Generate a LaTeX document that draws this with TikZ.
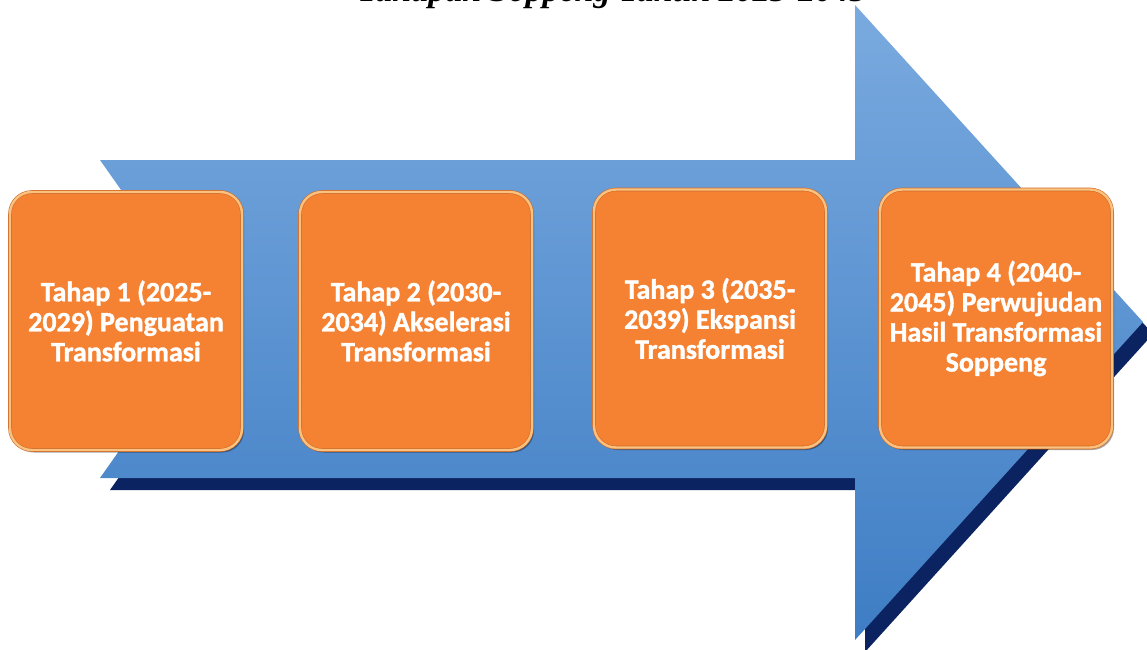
\documentclass[tikz,border=0pt]{standalone}
\usepackage{fontspec}
\setmainfont{Liberation Serif}
\newfontfamily\boxfont{Carlito}[BoldFeatures={FakeBold=1.3}]
\usetikzlibrary{shadows}
\definecolor{arrowtop}{HTML}{7AAADF}
\definecolor{arrowmid}{HTML}{5A98D6}
\definecolor{arrowbot}{HTML}{3E7DC4}
\definecolor{arrowshadow}{HTML}{0B2360}
\definecolor{boxfill}{HTML}{F58233}
\definecolor{boxedge}{HTML}{D06A28}
\definecolor{boxring}{HTML}{FBC27F}
\tikzset{
  stagebox/.style={
    rectangle, rounded corners=22pt, minimum width=232pt, minimum height=258pt,
    fill=boxfill, draw=boxedge, line width=0.6pt, double=boxring, double distance=2.4pt,
    drop shadow={shadow xshift=2pt, shadow yshift=-2.5pt, opacity=0.35, fill=black},
    text=white, align=center, font=\boxfont\bfseries\fontsize{28pt}{30pt}\selectfont,
    inner sep=1pt},
  titletext/.style={font=\bfseries\itshape\fontsize{34pt}{40pt}\selectfont, text=black, anchor=base}
}
\begin{document}
\begin{tikzpicture}[x=1pt,y=-1pt]
\useasboundingbox (0,0) rectangle (1147,649);
\clip (0,0) rectangle (1147,649);
% title (cut off at top, as in the reference)
\node[titletext] (title) at (612,1.5) {Tahapan Soppeng Tahun 2025-2045};
% arrow shadow
\fill[arrowshadow] (110,172) -- (865,172) -- (865,17) -- (1153,334) -- (865,652) -- (865,490) -- (110,490) -- (222,331) -- cycle;
% arrow
\shade[top color=arrowtop, middle color=arrowmid, bottom color=arrowbot]
  (100,160) -- (855,160) -- (855,5) -- (1143,322) -- (855,640) -- (855,478) -- (100,478) -- (212,319) -- cycle;
% stages
\node[stagebox] (s1) at (126,321) {Tahap 1 (2025-\\2029) Penguatan\\Transformasi};
\node[stagebox] (s2) at (416,321) {Tahap 2 (2030-\\2034) Akselerasi\\Transformasi};
\node[stagebox] (s3) at (710,318.5) {Tahap 3 (2035-\\2039) Ekspansi\\Transformasi};
\node[stagebox] (s4) at (996,318.5) {Tahap 4 (2040-\\2045) Perwujudan\\Hasil Transformasi\\Soppeng};
\end{tikzpicture}
\end{document}
